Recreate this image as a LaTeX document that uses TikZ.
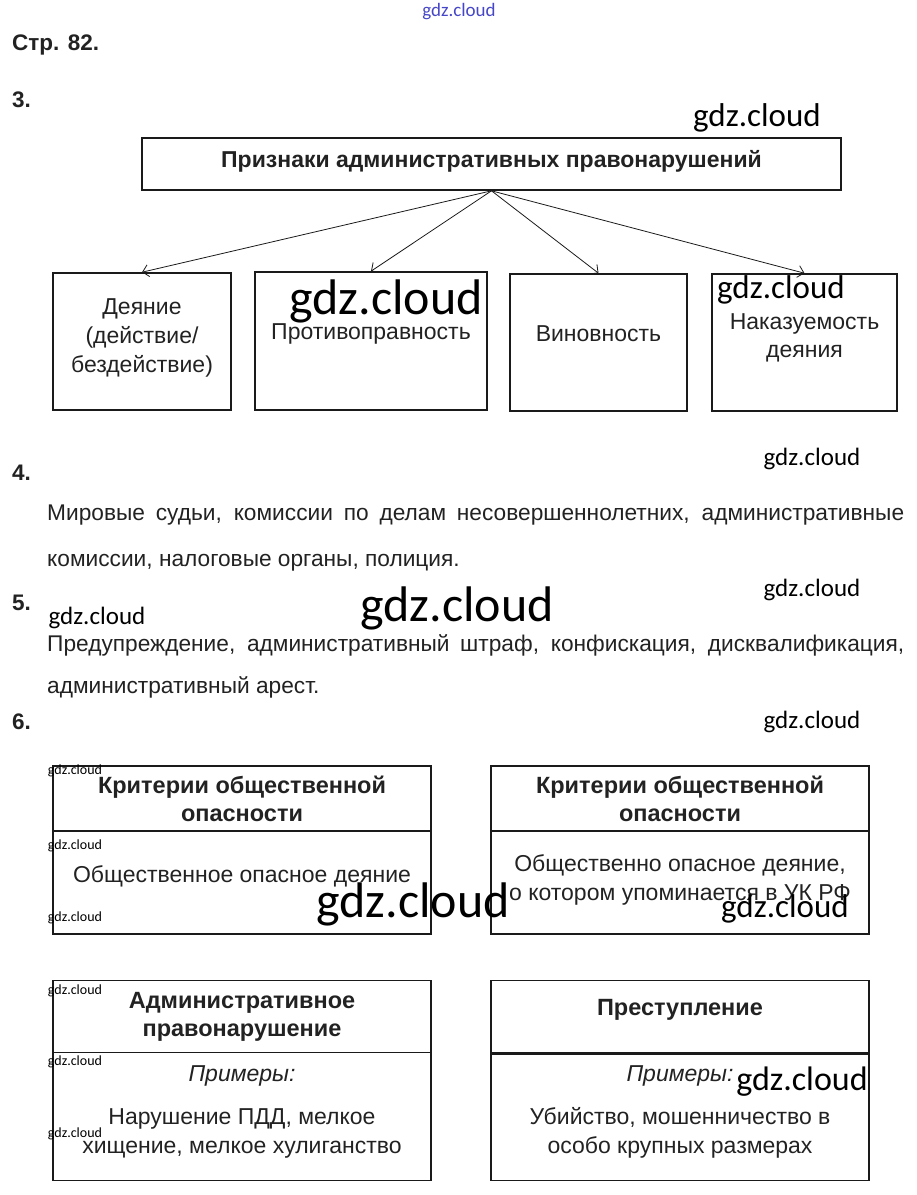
\documentclass[tikz,border=0pt]{standalone}
\usepackage{fontspec}
\setmainfont{Liberation Sans}
\newfontfamily\wmfont{Carlito}
\usetikzlibrary{arrows.meta}
\definecolor{darkline}{HTML}{1A1A1A}
\definecolor{textgray}{HTML}{222222}
\definecolor{wmblue}{HTML}{4646C8}
\tikzset{
  box/.style={
    rectangle,
    draw=darkline,
    line width=1.6pt,
    inner sep=0pt,
    align=center,
    text=textgray,
    font=\fontsize{23}{29}\selectfont
  },
  head/.style={
    box,
    font=\fontsize{23.5}{28}\selectfont\bfseries
  },
  flow/.style={
    -{Straight Barb[length=6pt, width=12pt]},
    line width=0.8pt,
    draw=darkline
  },
  numhead/.style={
    anchor=west,
    inner sep=0pt,
    text=textgray,
    font=\fontsize{22.5}{26}\selectfont\bfseries
  },
  para/.style={
    anchor=base west,
    inner sep=0pt,
    text width=857pt,
    align=justify,
    text=textgray
  },
  wmark/.style={
    inner sep=0pt,
    font=\wmfont\fontsize{#1}{#1}\selectfont
  },
  wmark/.default=25
}

\begin{document}
\begin{tikzpicture}[x=1pt, y=-1pt]
\useasboundingbox (0,0) rectangle (917,1195);

% Page header.
\node[wmark=19, text=wmblue] (wm-top) at (459,12) {gdz.cloud};
\node[numhead] (page) at (12,45) {Стр. 82.};

% Task 3.
\node[numhead] (task3) at (12,100) {3.};
\node[wmark=33] (wm-task3) at (757,118) {gdz.cloud};
\node[box, minimum width=699pt, minimum height=52pt, font=\fontsize{23}{28}\selectfont\bfseries] (title) at (491.5,164) {Признаки административных правонарушений\\[-18pt]};

\node[box, minimum width=178pt, minimum height=137pt] (deed) at (142,341.5) {Деяние\\(действие/\\бездействие)\\[-17pt]};
\node[box, minimum width=232pt, minimum height=138pt] (illegal) at (371,341) {Противоправность\\[-11pt]};
\node[box, minimum width=177pt, minimum height=137pt] (guilt) at (598.5,342.5) {Виновность\\[-12pt]};
\node[box, minimum width=185pt, minimum height=137pt, font=\fontsize{23}{28}\selectfont] (punish) at (804.5,342.5) {Наказуемость\\деяния\\[-14pt]};

\node[wmark=50] (wm-illegal) at (386,301) {gdz.cloud};
\node[wmark=33] (wm-punish) at (781,290) {gdz.cloud};

\draw[flow] (title.south) -- (deed.north);
\draw[flow] (title.south) -- (illegal.north);
\draw[flow] (title.south) -- (guilt.north);
\draw[flow] (title.south) -- (punish.north);

% Task 4.
\node[numhead] (task4) at (12,473) {4.};
\node[wmark] (wm-task4) at (812,459) {gdz.cloud};
\node[para, font=\fontsize{22.7}{46}\selectfont] (bodies) at (47,520) {Мировые судьи, комиссии по делам несовершеннолетних, административные\linebreak комиссии, налоговые органы, полиция.};

% Task 5.
\node[numhead] (task5) at (12,603) {5.};
\node[wmark] (wm-task5a) at (812,590) {gdz.cloud};
\node[wmark] (wm-task5b) at (97,618) {gdz.cloud};
\node[wmark=50] (wm-task5c) at (457,608) {gdz.cloud};
\node[para, font=\fontsize{22.7}{42}\selectfont] (penalties) at (47,651) {Предупреждение, административный штраф, конфискация, дисквалификация,\linebreak административный арест.};

% Task 6.
\node[numhead] (task6) at (12,722) {6.};
\node[wmark] (wm-task6) at (812,722) {gdz.cloud};

\node[head, minimum width=378pt, minimum height=65pt] (crit-a) at (242,798.5) {Критерии общественной\\опасности};
\node[box, minimum width=378pt, minimum height=103pt] (crit-a-body) at (242,882.5) {Общественное опасное деяние\\[-13pt]};
\node[head, minimum width=378pt, minimum height=65pt] (crit-b) at (680,798.5) {Критерии общественной\\опасности};
\node[box, minimum width=378pt, minimum height=103pt] (crit-b-body) at (680,882.5) {Общественно опасное деяние,\\о котором упоминается в УК РФ\\[-19pt]};

\node[head, minimum width=378pt, minimum height=72pt] (offence) at (242,1016.5) {Административное\\правонарушение};
\node[box, minimum width=378pt, minimum height=128pt] (offence-body) at (242,1116.5) {\textit{Примеры:}\\[14pt]Нарушение ПДД, мелкое\\хищение, мелкое хулиганство\\[-16pt]};
\node[head, minimum width=378pt, minimum height=72pt] (crime) at (680,1016.5) {Преступление\\[-10pt]};
\node[box, minimum width=378pt, minimum height=128pt] (crime-body) at (680,1116.5) {\textit{Примеры:}\\[14pt]Убийство, мошенничество в\\особо крупных размерах\\[-16pt]};
\draw[line width=3pt, draw=darkline] (crime.south west) -- (crime.south east);

% Watermarks over the tables.
\foreach \y [count=\i] in {771,846,918,991,1062,1134}
  \node[wmark=14] (wm-side-\i) at (75,\y) {gdz.cloud};
\node[wmark=50] (wm-crit-a) at (413,904) {gdz.cloud};
\node[wmark=33] (wm-crit-b) at (785,909) {gdz.cloud};
\node[wmark=34] (wm-crime) at (802,1082) {gdz.cloud};

\end{tikzpicture}
\end{document}
